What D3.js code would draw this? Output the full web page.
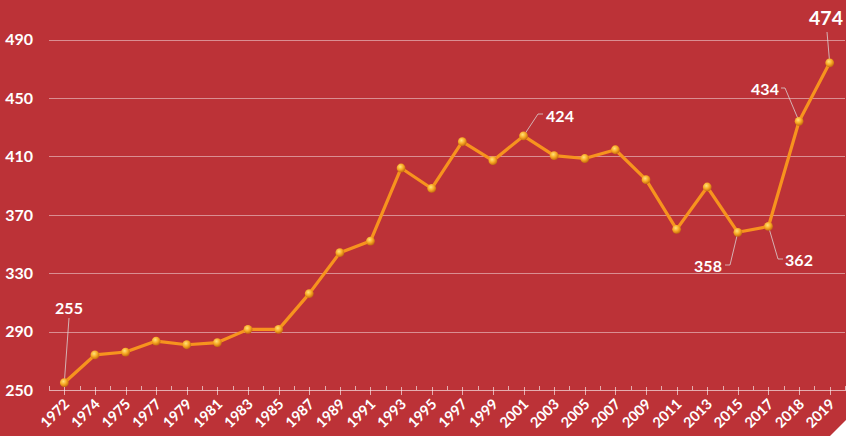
<!DOCTYPE html>
<html>
<head>
<meta charset="utf-8">
<script src="https://cdn.jsdelivr.net/npm/d3@7"></script>
<style>
  html, body { margin: 0; padding: 0; background: #bc3237; }
  svg { display: block; }
  text { font-family: Lato, "Open Sans", sans-serif; font-weight: 700; fill: #fff; }
</style>
</head>
<body>
<script>
// Yearly values
const years = ["1972","1974","1975","1977","1979","1981","1983","1985","1987","1989","1991","1993","1995",
               "1997","1999","2001","2003","2005","2007","2009","2011","2013","2015","2017","2018","2019"];
const values = [255, 274, 276, 283.5, 281, 282.5, 291.5, 291.5, 316, 344, 352, 402, 388,
                420, 407, 424, 410.5, 408.5, 414.5, 394, 360, 389, 358, 362, 434, 474];
const yTicks = [250, 290, 330, 370, 410, 450, 490];

// Callouts: label centre, leader elbow and end, font size
const callouts = [
  { year: "1972", text: "255", lx: 69, ly: 308, bx: 69, by: 318, ex: 69, size: 16 },
  { year: "2001", text: "424", lx: 560, ly: 116, bx: 538, by: 114, ex: 543, size: 16 },
  { year: "2015", text: "358", lx: 708, ly: 266, bx: 730, by: 265, ex: 725, size: 16 },
  { year: "2017", text: "362", lx: 799, ly: 260, bx: 778, by: 259, ex: 783, size: 16 },
  { year: "2018", text: "434", lx: 765, ly: 89, bx: 785, by: 88, ex: 781, size: 16 },
  { year: "2019", text: "474", lx: 826, ly: 18, bx: 827, by: 32, ex: 827, size: 19.5 }
];

const W = 846, H = 436;
const svg = d3.select("body").append("svg").attr("width", W).attr("height", H);

svg.append("rect").attr("width", W).attr("height", H).attr("fill", "#bc3237");

const x = d3.scaleBand().domain(years).range([49, 845]);
const xc = d => x(d) + x.bandwidth() / 2;
const y = d3.scaleLinear().domain([250, 490]).range([390, 39.5]);

// Gridlines
svg.append("g").selectAll("line").data(yTicks.filter(t => t > 250)).join("line")
  .attr("x1", 49).attr("x2", 845)
  .attr("y1", d => Math.round(y(d)) + 0.5).attr("y2", d => Math.round(y(d)) + 0.5)
  .attr("stroke", "rgba(255,255,255,0.45)").attr("stroke-width", 1);

// Y labels
svg.append("g").selectAll("text").data(yTicks).join("text")
  .attr("x", 33).attr("y", d => y(d)).attr("dy", "0.36em")
  .attr("text-anchor", "end").attr("font-size", 16)
  .text(d => d);

// X axis line and ticks
const ax = svg.append("g").attr("stroke", "rgba(255,255,255,0.6)").attr("stroke-width", 1);
ax.append("line").attr("x1", 49).attr("x2", 846).attr("y1", 390.5).attr("y2", 390.5);
ax.selectAll(".maj").data(years).join("line")
  .attr("x1", d => Math.round(xc(d)) + 0.5).attr("x2", d => Math.round(xc(d)) + 0.5)
  .attr("y1", 387).attr("y2", 395);
ax.selectAll(".min").data(years.concat(["end"])).join("line")
  .attr("x1", (d, i) => Math.round(49 + i * x.step()) + 0.5)
  .attr("x2", (d, i) => Math.round(49 + i * x.step()) + 0.5)
  .attr("y1", 386).attr("y2", 390);

// X labels, rotated
svg.append("g").selectAll("text").data(years).join("text")
  .attr("transform", d => `translate(${xc(d) + 6},${405}) rotate(-45)`)
  .attr("text-anchor", "end").attr("font-size", 14.5)
  .text(d => d);

// Marker shading
const defs = svg.append("defs");
const grad = defs.append("radialGradient").attr("id", "ball").attr("cx", "40%").attr("cy", "35%").attr("r", "65%");
grad.append("stop").attr("offset", "0%").attr("stop-color", "#ffe27a");
grad.append("stop").attr("offset", "55%").attr("stop-color", "#f7a823");
grad.append("stop").attr("offset", "100%").attr("stop-color", "#c46a10");

// Line
const pts = years.map((yr, i) => ({ yr, v: values[i] }));
svg.append("path").datum(pts)
  .attr("fill", "none").attr("stroke", "#f7931e").attr("stroke-width", 3.2).attr("stroke-linejoin", "round")
  .attr("d", d3.line().x(d => xc(d.yr)).y(d => y(d.v)));

// Leader lines and value labels
const cg = svg.append("g");
callouts.forEach(c => {
  const i = years.indexOf(c.year);
  const px = xc(c.year), py = y(values[i]);
  cg.append("polyline")
    .attr("points", `${px},${py} ${c.bx},${c.by} ${c.ex},${c.by}`)
    .attr("fill", "none").attr("stroke", "rgba(220,220,220,0.75)").attr("stroke-width", 1);
  cg.append("text").attr("x", c.lx).attr("y", c.ly).attr("dy", "0.36em")
    .attr("text-anchor", "middle").attr("font-size", c.size).text(c.text);
});

// Markers
svg.append("g").selectAll("circle").data(pts).join("circle")
  .attr("cx", d => xc(d.yr)).attr("cy", d => y(d.v)).attr("r", 4.4)
  .attr("fill", "url(#ball)");

// Folded corner
svg.append("path").attr("d", `M830,436 L846,420 L846,436 Z`).attr("fill", "#ffffff");
</script>
</body>
</html>
